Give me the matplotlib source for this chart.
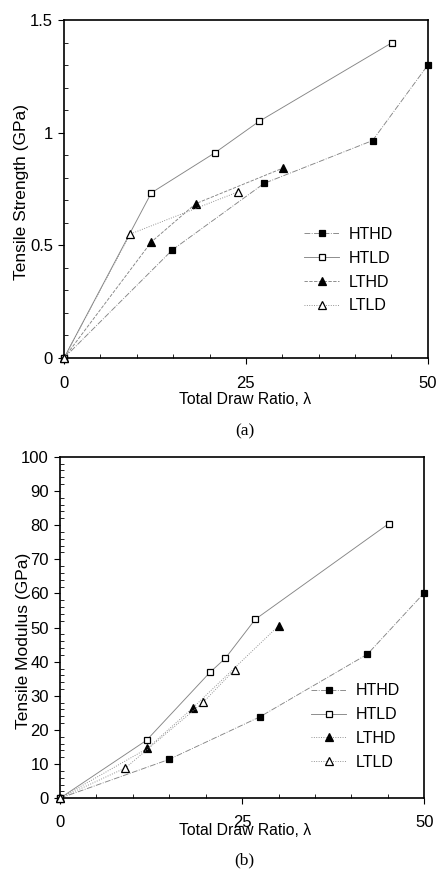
import matplotlib
matplotlib.use("Agg")
import matplotlib.pyplot as plt
from matplotlib.ticker import MultipleLocator

plt.rcParams['font.family'] = ['Liberation Sans', 'DejaVu Sans']

# --- data ---
labels = ['HTHD', 'HTLD', 'LTHD', 'LTLD']

# (a) tensile strength, GPa
htx_hd_a = [0, 14.9, 27.5, 42.4, 50.0]
hty_hd_a = [0, 0.48, 0.775, 0.965, 1.30]
htx_ld_a = [0, 12.0, 20.7, 26.8, 45.1]
hty_ld_a = [0, 0.733, 0.91, 1.05, 1.40]
ltx_hd_a = [0, 12.0, 18.1, 30.1]
lty_hd_a = [0, 0.515, 0.685, 0.843]
ltx_ld_a = [0, 9.1, 23.9]
lty_ld_a = [0, 0.55, 0.737]

# (b) tensile modulus, GPa
htx_hd_b = [0, 15.0, 27.4, 42.2, 50.0]
hty_hd_b = [0, 11.4, 23.8, 42.2, 60.2]
htx_ld_b = [0, 11.9, 20.6, 22.7, 26.8, 45.1]
hty_ld_b = [0, 17.0, 36.9, 41.0, 52.4, 80.4]
ltx_hd_b = [0, 12.0, 18.2, 30.0]
lty_hd_b = [0, 14.6, 26.4, 50.5]
ltx_ld_b = [0, 9.0, 19.7, 24.0]
lty_ld_b = [0, 8.9, 28.2, 37.7]

markers = [('s', 'black'), ('s', 'white'), ('^', 'black'), ('^', 'white')]
styles_a = ['-.', '-', '--', ':']
styles_b = ['-.', '-', ':', ':']

fig = plt.figure(figsize=(4.37, 8.71), dpi=100)


def draw_panel(ax, series, styles, ymax, ymajor, yminor, ylabel, ylab_xy, leg_anchor, xpad):
    for (x, y), lab, (mk, fc), ls in zip(series, labels, markers, styles):
        ax.plot(x, y, color='#858585', lw=0.65, ls=ls, marker=mk,
                ms=5.5 if mk == '^' else 5, mfc=fc, mec='black', mew=0.9,
                label=lab, clip_on=False, zorder=3)
    ax.set_xlim(0, 50)
    ax.set_ylim(0, ymax)
    ax.xaxis.set_major_locator(MultipleLocator(25))
    ax.xaxis.set_minor_locator(MultipleLocator(5))
    ax.yaxis.set_major_locator(MultipleLocator(ymajor))
    ax.yaxis.set_minor_locator(MultipleLocator(yminor))
    ax.yaxis.set_major_formatter(lambda v, p: f"{v:g}")
    ax.tick_params(which='major', direction='out', length=4, width=0.8,
                   labelsize=12)
    ax.tick_params(axis='y', which='major', pad=4)
    ax.tick_params(axis='x', which='major', pad=xpad)
    ax.tick_params(which='minor', direction='in', length=3, width=0.6)
    for s in ax.spines.values():
        s.set_linewidth(1.2)
    ax.set_ylabel(ylabel, fontsize=12.5)
    ax.yaxis.set_label_coords(*ylab_xy)
    ax.legend(loc='center left', bbox_to_anchor=leg_anchor, frameon=False,
              fontsize=11.5, handlelength=2.2, handletextpad=0.6,
              labelspacing=0.55, borderpad=0, borderaxespad=0)


ax_a = fig.add_axes([0.1465, 0.589, 0.8325, 0.388])
draw_panel(ax_a,
           [(htx_hd_a, hty_hd_a), (htx_ld_a, hty_ld_a),
            (ltx_hd_a, lty_hd_a), (ltx_ld_a, lty_ld_a)], styles_a,
           1.5, 0.5, 0.1, 'Tensile Strength (GPa)', (-0.097, 0.49),
           (0.66, 0.26), 9)
fig.text(0.56, 1 - 400 / 871, 'Total Draw Ratio, \u03bb', ha='center', va='center', fontsize=11.3)
fig.text(0.56, 1 - 431 / 871, '(a)', ha='center', va='center', fontsize=12.5,
         family='Liberation Serif')

ax_b = fig.add_axes([0.137, 0.0835, 0.834, 0.392])
draw_panel(ax_b,
           [(htx_hd_b, hty_hd_b), (htx_ld_b, hty_ld_b),
            (ltx_hd_b, lty_hd_b), (ltx_ld_b, lty_ld_b)], styles_b,
           100, 10, 2, 'Tensile Modulus (GPa)', (-0.078, 0.46),
           (0.69, 0.21), 8)
fig.text(0.56, 1 - 830 / 871, 'Total Draw Ratio, \u03bb', ha='center', va='center', fontsize=11.3)
fig.text(0.56, 1 - 860 / 871, '(b)', ha='center', va='center', fontsize=12.5,
         family='Liberation Serif')

fig.savefig('out.png', dpi=100)
